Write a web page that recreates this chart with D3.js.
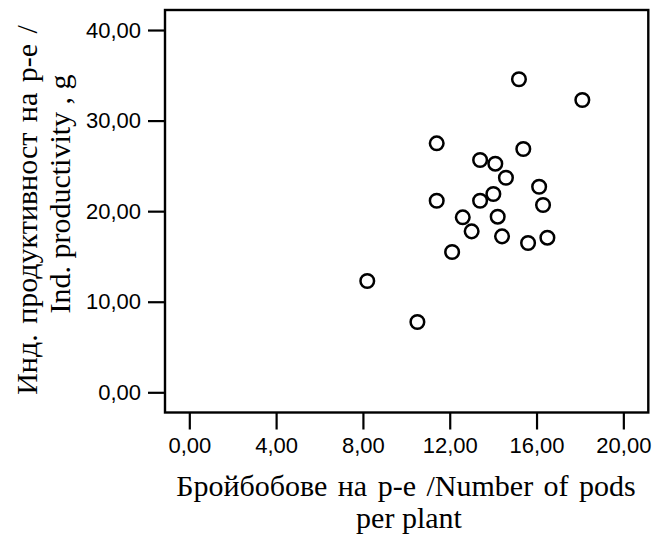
<!DOCTYPE html>
<html><head><meta charset="utf-8">
<script src="https://cdn.jsdelivr.net/npm/d3@7"></script>
<style>body{margin:0;background:#fff}</style>
</head><body>
<svg id="c" width="670" height="540"></svg>
<script>
const podsPerPlant = [15.19,18.11,11.40,15.39,13.40,14.10,14.59,16.12,14.01,11.40,13.40,16.30,12.60,14.21,13.01,14.41,16.50,15.61,12.11,8.20,10.51];
const productivity = [34.56,32.27,27.49,26.86,25.65,25.24,23.69,22.70,21.89,21.15,21.15,20.68,19.32,19.39,17.77,17.22,17.07,16.48,15.49,12.29,7.76];
const xTicks = [0,4,8,12,16,20];
const yTicks = [0,10,20,30,40];
const xTitleLines = ["Бройбобове на р-е /Number of pods","per plant"];
const yTitleLines = ["Инд. продуктивност на р-е /","Ind. productivity , g"];

const svg = d3.select("#c");
const L=165, R=648.3, T=10, B=412.5;
const x = d3.scaleLinear().domain([-1.12,21.15]).range([L,R]);
const y = d3.scaleLinear().domain([-2.23,42.21]).range([B,T]);
const fmt = d => d3.format(".2f")(d).replace(".",",");

const xAxis = svg.append("g").attr("transform",`translate(0,${B})`)
  .call(d3.axisBottom(x).tickValues(xTicks).tickFormat(fmt).tickSize(17).tickPadding(8));
const yAxis = svg.append("g").attr("transform",`translate(${L},0)`)
  .call(d3.axisLeft(y).tickValues(yTicks).tickFormat(fmt).tickSize(17).tickPadding(7));
[xAxis,yAxis].forEach(g=>{
  g.select(".domain").remove();
  g.selectAll(".tick line").attr("stroke","#000").attr("stroke-width",2.2);
  g.selectAll("text").attr("fill","#000").style("font-family","'Liberation Sans',Arial,sans-serif").style("font-size","22px");
});

svg.append("rect").attr("x",L).attr("y",T).attr("width",R-L).attr("height",B-T)
  .attr("fill","none").attr("stroke","#000").attr("stroke-width",2.4);

svg.append("g").selectAll("circle").data(podsPerPlant).join("circle")
  .attr("cx",d=>x(d)).attr("cy",(d,i)=>y(productivity[i])).attr("r",6.8)
  .attr("fill","none").attr("stroke","#000").attr("stroke-width",2.5);

const serif = "'Liberation Serif','Times New Roman',serif";
svg.append("g").selectAll("text").data(xTitleLines).join("text")
  .attr("x",(d,i)=>[406,409][i]).attr("y",(d,i)=>496+i*32).attr("text-anchor","middle")
  .style("word-spacing",(d,i)=>i===0?"3px":"0px")
  .style("font-family",serif).style("font-size","30px").text(d=>d);
svg.append("g").selectAll("text").data(yTitleLines).join("text")
  .attr("transform",(d,i)=>`translate(${[37,70][i]},${[210,194][i]}) rotate(-90)`)
  .attr("text-anchor","middle")
  .style("word-spacing",(d,i)=>i===0?"3px":"0px")
  .style("font-family",serif).style("font-size","30px").text(d=>d);
</script>
</body></html>
